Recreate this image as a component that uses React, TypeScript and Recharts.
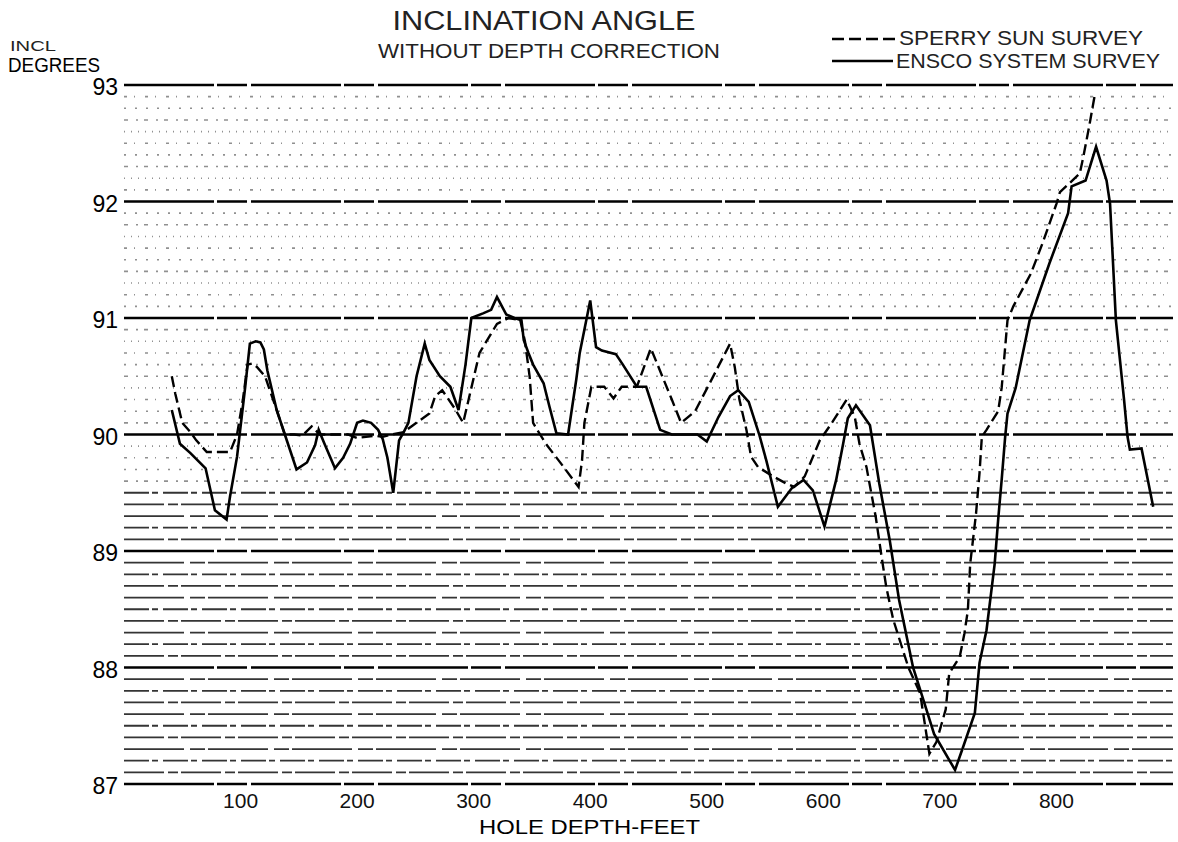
import React from 'react';
import { LineChart, Line, XAxis, YAxis, ReferenceLine } from 'recharts';

// Sperry-Sun survey: hole depth (ft) and inclination (deg)
const sperryDepth = [
  41, 44, 50, 57, 62, 71, 91, 97, 102, 106, 110, 114, 121, 131, 138, 146, 153, 161, 168, 192,
  200, 215, 222, 230, 240, 248, 262, 267, 273, 284, 291, 305, 320, 330, 340, 344, 348, 351, 357, 362,
  375, 390, 393, 395, 401, 412, 420, 427, 440, 452, 470, 478, 490, 503, 520, 524, 528, 534, 538, 544,
  557, 568, 575, 584, 597, 608, 620, 627, 631, 637, 645, 650, 654, 660, 673, 683, 691, 697, 705, 708,
  717, 721, 724, 726, 731, 734, 736, 740, 750, 753, 758, 763, 778, 788, 800, 803, 820, 823, 828, 833,
];
const sperryIncl = [
  90.5, 90.35, 90.1, 90.02, 89.95, 89.85, 89.85, 90.0, 90.3, 90.6, 90.61, 90.58, 90.5, 90.21, 90.0, 90.0, 89.99, 90.07, 90.0, 90.0,
  89.97, 89.99, 89.98, 90.0, 90.02, 90.08, 90.18, 90.33, 90.38, 90.22, 90.1, 90.7, 90.95, 91.0, 90.98, 90.8, 90.5, 90.1, 90.0, 89.92,
  89.75, 89.55, 89.78, 90.1, 90.41, 90.41, 90.31, 90.41, 90.41, 90.74, 90.3, 90.1, 90.2, 90.45, 90.78, 90.58, 90.3, 90.04, 89.81, 89.72,
  89.64, 89.58, 89.55, 89.64, 89.95, 90.11, 90.3, 90.15, 89.92, 89.72, 89.29, 88.95, 88.69, 88.41, 88.0, 87.78, 87.26, 87.36, 87.64, 87.95,
  88.09, 88.29, 88.49, 88.89, 89.32, 89.67, 89.98, 90.04, 90.2, 90.4, 90.98, 91.1, 91.38, 91.64, 91.98, 92.08, 92.24, 92.38, 92.64, 92.92,
];

// ENSCO system survey
const enscoDepth = [
  41, 48, 57, 70, 78, 88, 91, 97, 104, 108, 113, 117, 120, 123, 131, 138, 148, 157, 164, 167,
  172, 181, 188, 194, 200, 205, 212, 218, 222, 226, 231, 236, 240, 244, 251, 258, 262, 271, 280, 287,
  293, 298, 308, 315, 320, 328, 335, 341, 343, 347, 351, 360, 365, 371, 381, 388, 391, 400, 405, 410,
  422, 428, 440, 448, 460, 470, 492, 500, 510, 520, 527, 536, 545, 551, 561, 573, 583, 591, 601, 611,
  617, 621, 628, 640, 648, 657, 665, 677, 684, 695, 713, 720, 730, 734, 740, 747, 750, 753, 756, 758,
  765, 777, 794, 810, 813, 825, 834, 843, 846, 851, 858, 861, 863, 873, 883,
];
const enscoIncl = [
  90.21, 89.92, 89.84, 89.71, 89.35, 89.27, 89.47, 89.81, 90.41, 90.78, 90.8, 90.79, 90.73, 90.55, 90.21, 90.0, 89.7, 89.76, 89.91, 90.04,
  89.92, 89.71, 89.8, 89.92, 90.1, 90.12, 90.1, 90.04, 89.96, 89.8, 89.5, 89.95, 90.02, 90.1, 90.5, 90.78, 90.64, 90.5, 90.41, 90.21,
  90.6, 91.0, 91.04, 91.07, 91.18, 91.03, 91.0, 90.98, 90.81, 90.7, 90.6, 90.44, 90.24, 90.01, 90.0, 90.47, 90.7, 91.15, 90.75, 90.72,
  90.69, 90.6, 90.41, 90.41, 90.04, 90.0, 90.0, 89.94, 90.15, 90.33, 90.38, 90.28, 90.0, 89.78, 89.38, 89.54, 89.61, 89.52, 89.21, 89.61,
  89.92, 90.14, 90.25, 90.08, 89.58, 89.09, 88.58, 88.0, 87.78, 87.43, 87.12, 87.32, 87.61, 88.04, 88.32, 88.89, 89.27, 89.61, 89.98, 90.18,
  90.4, 90.98, 91.47, 91.9, 92.13, 92.18, 92.47, 92.18, 91.98, 90.98, 90.3, 89.98, 89.87, 89.88, 89.38,
];

const depthTicks = [100, 200, 300, 400, 500, 600, 700, 800];
const inclTicks = [87, 88, 89, 90, 91, 92, 93];

const toPoints = (depth: number[], incl: number[]) =>
  depth.map((d, i) => ({ depth: d, incl: incl[i] }));

const sperryData = toPoints(sperryDepth, sperryIncl);
const enscoData = toPoints(enscoDepth, enscoIncl);

// tenth-of-a-degree rulings between the whole degrees
const minorRules: number[] = [];
for (let t = 871; t < 930; t++) {
  if (t % 10 !== 0) minorRules.push(t / 10);
}

const lightDash = ['2 9', '3 7 1 10', '1 6', '4 8 2 6'];
const heavyDash = ['40 4 10 3', '25 3 6 5', '60 6 15 3'];

const ruleStyle = (v: number, i: number) =>
  v <= 89.5
    ? { stroke: '#111', strokeWidth: 1.8, strokeDasharray: heavyDash[i % heavyDash.length], strokeOpacity: 0.85 }
    : { stroke: '#222', strokeWidth: 1.6, strokeDasharray: lightDash[i % lightDash.length], strokeOpacity: 0.5 };

const FONT = '"Liberation Sans", Arial, sans-serif';

const DepthTick = (props: any) => {
  const { x, y, payload } = props;
  return (
    <text x={x} y={y} dy={16} textAnchor="middle" fontSize={21} fill="#111" fontFamily={FONT}>
      {payload.value}
    </text>
  );
};

const InclTick = (props: any) => {
  const { x, y, payload } = props;
  return (
    <text x={x + 2} y={y} dy={10} textAnchor="end" fontSize={23} fill="#000" fontFamily={FONT}>
      {payload.value}
    </text>
  );
};

export default function App() {
  return (
    <div style={{ position: 'absolute', left: 0, top: 0, width: 1178, height: 842, background: '#fff', fontFamily: FONT }}>
      <LineChart width={1178} height={842} margin={{ top: 85, right: 5, left: 0, bottom: 0 }}>
        <XAxis
          type="number"
          dataKey="depth"
          domain={[0, 900]}
          ticks={depthTicks}
          axisLine={false}
          tickLine={false}
          height={58}
          tick={<DepthTick />}
          allowDuplicatedCategory={false}
        />
        <YAxis
          type="number"
          domain={[87, 93]}
          ticks={inclTicks}
          axisLine={false}
          tickLine={false}
          width={124}
          tick={<InclTick />}
        />
        {minorRules.map((v, i) => (
          <ReferenceLine key={`m${v}`} y={v} {...ruleStyle(v, i)} />
        ))}
        {inclTicks.map((v) => (
          <ReferenceLine key={`M${v}`} y={v} stroke="#000" strokeWidth={2.4} strokeDasharray="90 3 30 4" />
        ))}
        <Line
          data={sperryData}
          dataKey="incl"
          type="linear"
          stroke="#000"
          strokeWidth={2.4}
          strokeDasharray="11 5"
          dot={false}
          isAnimationActive={false}
        />
        <Line
          data={enscoData}
          dataKey="incl"
          type="linear"
          stroke="#000"
          strokeWidth={2.6}
          dot={false}
          isAnimationActive={false}
        />
      </LineChart>
      <svg width={1178} height={842} style={{ position: 'absolute', left: 0, top: 0, pointerEvents: 'none' }}>
        <g fontFamily={FONT} fill="#222">
          <text x={544} y={30} fontSize={27} textAnchor="middle" textLength={303} lengthAdjust="spacingAndGlyphs">
            INCLINATION ANGLE
          </text>
          <text x={549} y={58} fontSize={21} textAnchor="middle" textLength={342} lengthAdjust="spacingAndGlyphs">
            WITHOUT  DEPTH  CORRECTION
          </text>
          <text x={10} y={51} fontSize={15} textLength={46} lengthAdjust="spacingAndGlyphs">INCL</text>
          <text x={8} y={72} fontSize={20} fill="#000" textLength={92} lengthAdjust="spacingAndGlyphs">DEGREES</text>

          <line x1={832} y1={39} x2={897} y2={39} stroke="#000" strokeWidth={2.4} strokeDasharray="12 5" />
          <text x={899} y={45} fontSize={21} textLength={244} lengthAdjust="spacingAndGlyphs">SPERRY  SUN  SURVEY</text>
          <line x1={832} y1={61} x2={893} y2={61} stroke="#000" strokeWidth={2.6} />
          <text x={896} y={68} fontSize={21} textLength={264} lengthAdjust="spacingAndGlyphs">ENSCO SYSTEM SURVEY</text>

          <text x={479} y={834} fontSize={21} fill="#000" textLength={221} lengthAdjust="spacingAndGlyphs">
            HOLE  DEPTH-FEET
          </text>
        </g>
      </svg>
    </div>
  );
}
